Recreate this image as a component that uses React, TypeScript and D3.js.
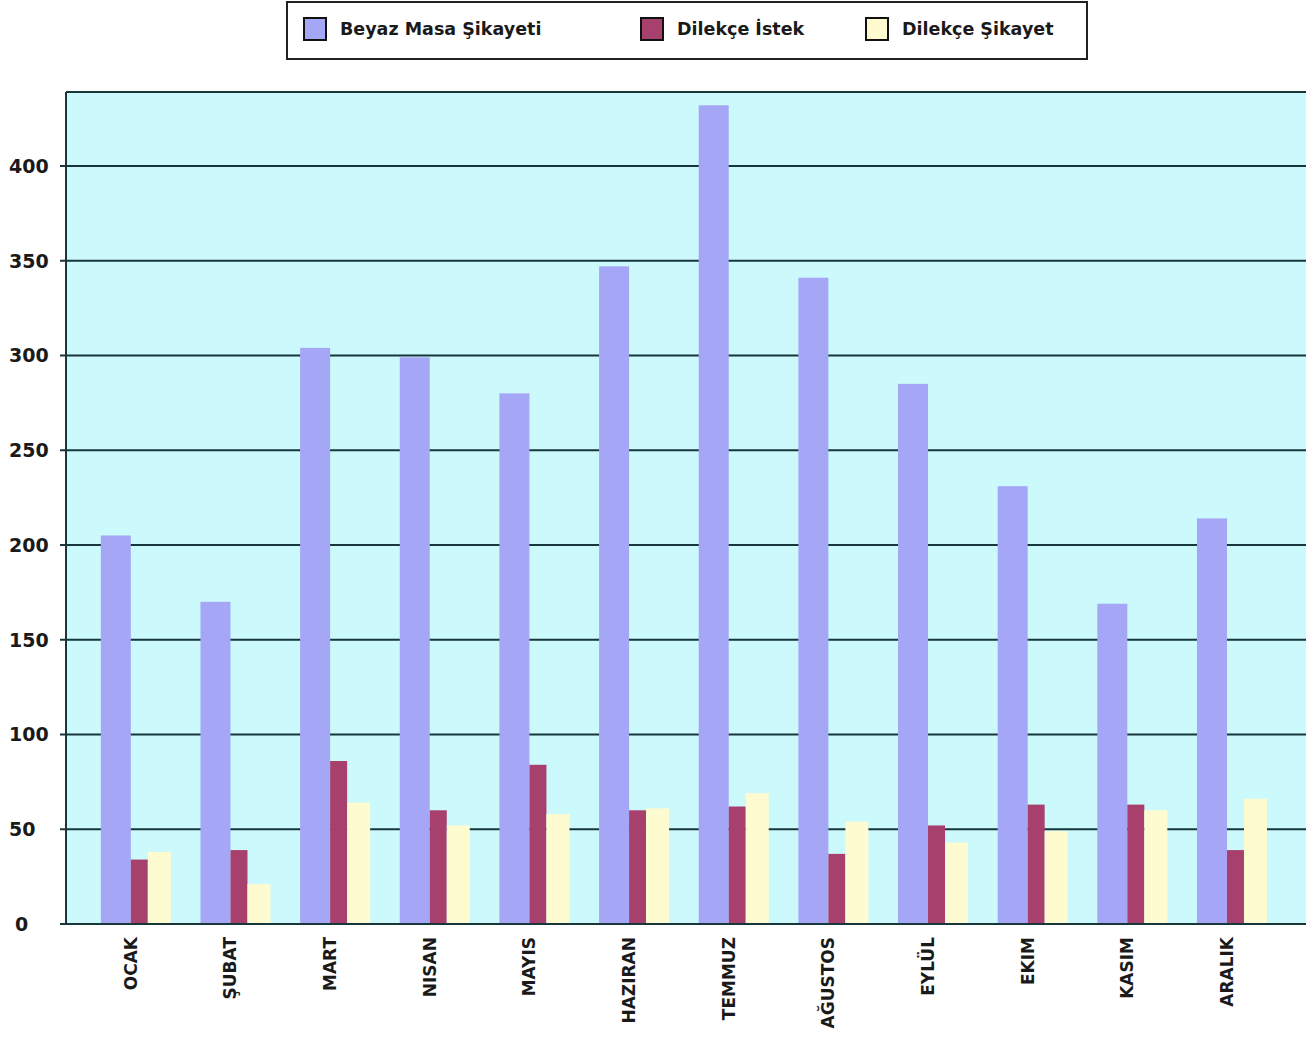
import React, { useEffect, useRef } from 'react';
import * as d3 from 'd3';

const months = ['OCAK', 'ŞUBAT', 'MART', 'NISAN', 'MAYIS', 'HAZIRAN', 'TEMMUZ', 'AĞUSTOS', 'EYLÜL', 'EKIM', 'KASIM', 'ARALIK'];
const seriesNames = ['Beyaz Masa Şikayeti', 'Dilekçe İstek', 'Dilekçe Şikayet'];
const beyazMasa = [205, 170, 304, 299, 280, 347, 432, 341, 285, 231, 169, 214];
const dilekceIstek = [34, 39, 86, 60, 84, 60, 62, 37, 52, 63, 63, 39];
const dilekceSikayet = [38, 21, 64, 52, 58, 61, 69, 54, 43, 49, 60, 66];
const yTicks = [0, 50, 100, 150, 200, 250, 300, 350, 400];

const colors = ['#a6a6f7', '#a8406d', '#fffbd0'];
const barWidths = [30, 17, 23];

const W = 1306;
const H = 1041;

export default function App() {
  const svgRef = useRef<SVGSVGElement>(null);

  useEffect(() => {
    if (!svgRef.current) return;
    const svg = d3.select(svgRef.current);
    svg.selectAll('*').remove();

    const left = 66, top = 92, bottom = 924;
    const x = d3.scaleBand<string>().domain(months).range([86, 86 + 12 * 99.65]).padding(0);
    const y = d3.scaleLinear().domain([0, 439]).range([bottom, top]);

    // plot background
    svg.append('rect')
      .attr('x', left).attr('y', top)
      .attr('width', W - left + 10).attr('height', bottom - top)
      .attr('fill', '#ccf9fc');

    // gridlines (behind bars)
    svg.append('g')
      .selectAll('line')
      .data(yTicks.filter(t => t > 0))
      .join('line')
      .attr('x1', left - 6).attr('x2', W + 10)
      .attr('y1', d => y(d)).attr('y2', d => y(d))
      .attr('stroke', '#17373a').attr('stroke-width', 2);

    // top border
    svg.append('line')
      .attr('x1', left).attr('x2', W + 10)
      .attr('y1', top).attr('y2', top)
      .attr('stroke', '#17373a').attr('stroke-width', 2);

    // bars
    const data = [beyazMasa, dilekceIstek, dilekceSikayet];
    const groupW = d3.sum(barWidths);
    const offsets = barWidths.map((_, i) => d3.sum(barWidths.slice(0, i)));
    const bars = svg.append('g');
    months.forEach((m, mi) => {
      const gx = (x(m) as number) + x.bandwidth() / 2 - groupW / 2;
      data.forEach((series, si) => {
        bars.append('rect')
          .attr('x', gx + offsets[si])
          .attr('y', y(series[mi]))
          .attr('width', barWidths[si])
          .attr('height', bottom - y(series[mi]))
          .attr('fill', colors[si]);
      });
    });

    // axes lines
    svg.append('line')
      .attr('x1', left).attr('x2', left)
      .attr('y1', top).attr('y2', bottom)
      .attr('stroke', '#17373a').attr('stroke-width', 2);
    svg.append('line')
      .attr('x1', left - 6).attr('x2', W + 10)
      .attr('y1', bottom).attr('y2', bottom)
      .attr('stroke', '#17373a').attr('stroke-width', 2);

    // y tick labels
    svg.append('g')
      .selectAll('text')
      .data(yTicks)
      .join('text')
      .attr('x', d => (d === 0 ? 15 : 9))
      .attr('y', d => y(d) + 7)
      .attr('font-family', 'DejaVu Sans, sans-serif')
      .attr('font-size', 19)
      .attr('font-weight', 600)
      .attr('fill', '#1a1a1a')
      .text(d => d);

    // month labels
    svg.append('g')
      .selectAll('text')
      .data(months)
      .join('text')
      .attr('transform', m => {
        const gx = (x(m) as number) + x.bandwidth() / 2 - groupW / 2 + barWidths[0];
        return `translate(${gx + 6},937) rotate(-90)`;
      })
      .attr('text-anchor', 'end')
      .attr('font-family', 'DejaVu Sans, sans-serif')
      .attr('font-size', 17)
      .attr('font-weight', 'bold')
      .attr('fill', '#1a1a1a')
      .text(d => d);

    // legend
    const lg = svg.append('g');
    lg.append('rect')
      .attr('x', 287).attr('y', 2).attr('width', 800).attr('height', 57)
      .attr('fill', '#fff').attr('stroke', '#222').attr('stroke-width', 2);
    const legendX = [304, 641, 866];
    seriesNames.forEach((name, i) => {
      lg.append('rect')
        .attr('x', legendX[i]).attr('y', 18).attr('width', 22).attr('height', 22)
        .attr('fill', colors[i]).attr('stroke', '#111').attr('stroke-width', 2);
      lg.append('text')
        .attr('x', legendX[i] + 36).attr('y', 35)
        .attr('font-family', 'DejaVu Sans, sans-serif')
        .attr('font-size', 17.5)
        .attr('font-weight', 'bold')
        .attr('fill', '#1a1a1a')
        .text(name);
    });
  }, []);

  return (
    <div style={{ position: 'absolute', left: 0, top: 0, width: W, height: H, background: '#fff' }}>
      <svg ref={svgRef} width={W} height={H} style={{ display: 'block' }}></svg>
    </div>
  );
}
